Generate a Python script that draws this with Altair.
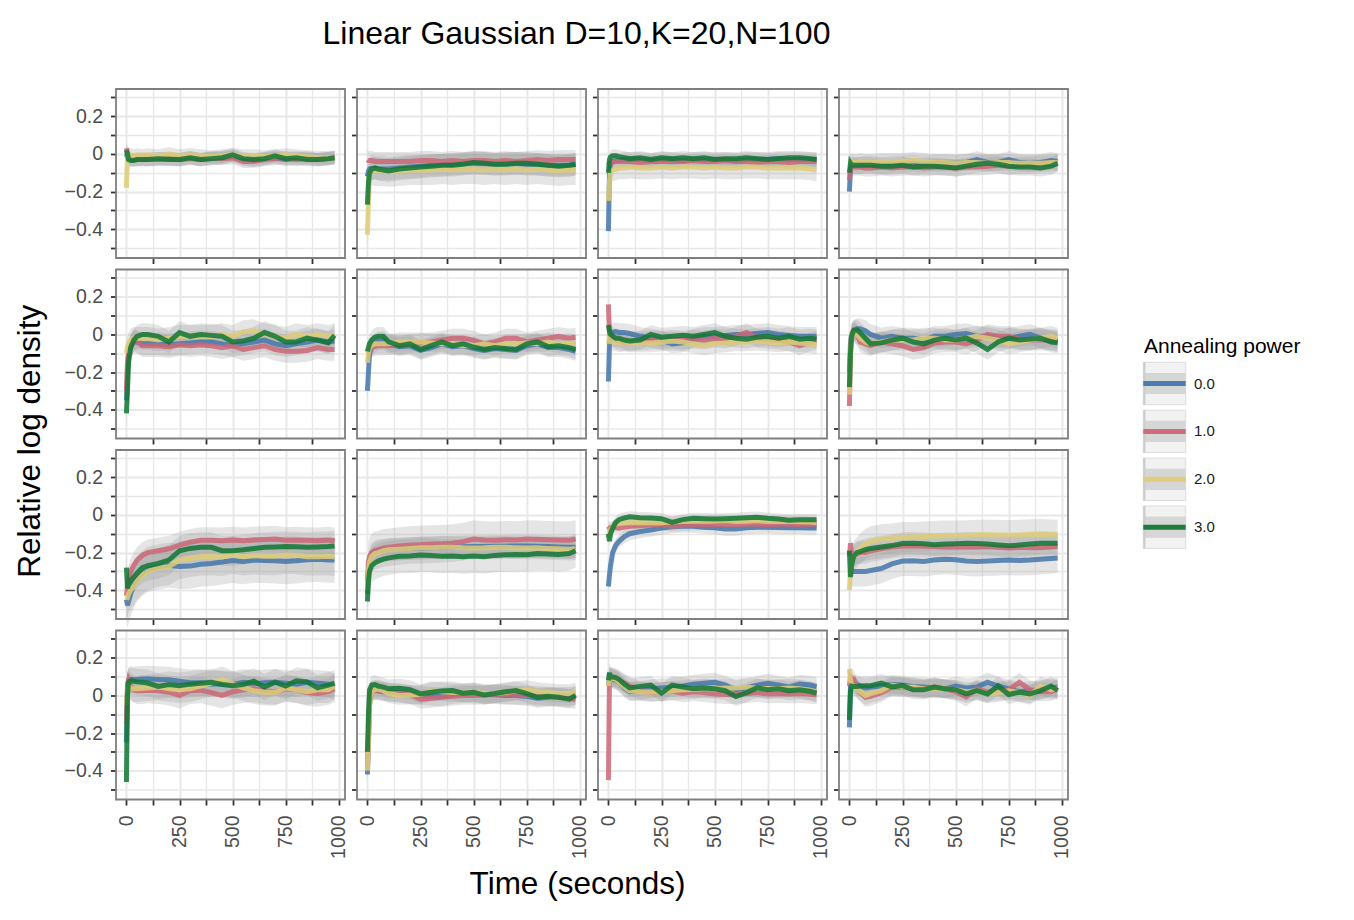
import altair as alt
import pandas as pd

T = [0, 5, 10, 20, 35, 50, 75, 100, 150, 200, 250, 300, 350, 400, 450, 500,
     550, 600, 650, 700, 750, 800, 850, 900, 950, 980]
SERIES = ["0.0", "1.0", "2.0", "3.0"]
COLORS = ["#4477AA", "#CC6677", "#DDCC77", "#117733"]
X_TICKS = [0, 125, 250, 375, 500, 625, 750, 875, 1000]
Y_TICKS = [-0.5, -0.4, -0.3, -0.2, -0.1, 0.0, 0.1, 0.2, 0.3]
TITLE = "Linear Gaussian D=10,K=20,N=100"
X_TITLE = "Time (seconds)"
Y_TITLE = "Relative log density"
LEGEND_TITLE = "Annealing power"

# ---- row 1 ----
P11_B = [0.0, -0.02, -0.03, -0.03, -0.03, -0.03, -0.03, -0.03, -0.025, -0.03, -0.03, -0.02, -0.03, -0.025, -0.02, -0.01, -0.03, -0.035, -0.025, -0.02, -0.03, -0.025, -0.02, -0.03, -0.025, -0.02]
P11_R = [0.03, 0.0, -0.02, -0.03, -0.03, -0.03, -0.025, -0.03, -0.03, -0.025, -0.03, -0.025, -0.03, -0.02, -0.025, -0.02, -0.04, -0.04, -0.03, -0.025, -0.02, -0.03, -0.025, -0.03, -0.025, -0.02]
P11_Y = [-0.18, -0.02, 0.0, -0.005, -0.01, -0.005, -0.01, -0.005, -0.01, 0.0, -0.01, -0.005, -0.01, -0.015, -0.01, -0.005, -0.01, -0.01, -0.015, -0.01, -0.005, -0.01, -0.015, -0.02, -0.02, -0.02]
P11_G = [0.02, 0.0, -0.03, -0.035, -0.035, -0.03, -0.03, -0.03, -0.025, -0.028, -0.03, -0.02, -0.03, -0.025, -0.02, -0.005, -0.025, -0.03, -0.025, -0.01, -0.025, -0.02, -0.03, -0.03, -0.025, -0.02]
HW11 = [0.035, 0.035, 0.035, 0.035]

P12_B = [-0.12, -0.09, -0.08, -0.08, -0.075, -0.08, -0.08, -0.08, -0.075, -0.07, -0.065, -0.06, -0.06, -0.055, -0.05, -0.05, -0.05, -0.055, -0.05, -0.05, -0.055, -0.055, -0.06, -0.06, -0.06, -0.055]
P12_R = [-0.03, -0.035, -0.035, -0.035, -0.04, -0.04, -0.04, -0.04, -0.04, -0.04, -0.035, -0.035, -0.04, -0.035, -0.04, -0.035, -0.035, -0.04, -0.035, -0.04, -0.035, -0.03, -0.035, -0.03, -0.03, -0.03]
P12_Y = [-0.43, -0.25, -0.1, -0.085, -0.09, -0.09, -0.09, -0.095, -0.09, -0.085, -0.085, -0.085, -0.08, -0.085, -0.08, -0.08, -0.085, -0.08, -0.085, -0.08, -0.085, -0.08, -0.085, -0.09, -0.085, -0.085]
P12_G = [-0.27, -0.15, -0.1, -0.08, -0.075, -0.08, -0.085, -0.09, -0.08, -0.075, -0.07, -0.065, -0.06, -0.06, -0.055, -0.045, -0.05, -0.055, -0.055, -0.05, -0.05, -0.055, -0.06, -0.065, -0.06, -0.055]
HW12 = [0.06, 0.05, 0.08, 0.06]

P13_B = [-0.41, -0.1, -0.05, -0.04, -0.035, -0.035, -0.03, -0.03, -0.03, -0.035, -0.03, -0.03, -0.035, -0.03, -0.03, -0.03, -0.03, -0.035, -0.03, -0.03, -0.03, -0.025, -0.03, -0.03, -0.03, -0.03]
P13_R = [-0.06, -0.05, -0.045, -0.045, -0.04, -0.04, -0.04, -0.04, -0.045, -0.04, -0.04, -0.04, -0.04, -0.035, -0.04, -0.04, -0.035, -0.04, -0.04, -0.045, -0.04, -0.04, -0.045, -0.04, -0.04, -0.04]
P13_Y = [-0.25, -0.15, -0.1, -0.085, -0.08, -0.075, -0.075, -0.07, -0.075, -0.075, -0.07, -0.075, -0.07, -0.07, -0.075, -0.07, -0.075, -0.075, -0.07, -0.07, -0.075, -0.075, -0.075, -0.075, -0.08, -0.085]
P13_G = [-0.1, -0.03, -0.015, -0.01, -0.01, -0.015, -0.02, -0.025, -0.02, -0.03, -0.02, -0.025, -0.02, -0.025, -0.02, -0.03, -0.025, -0.025, -0.02, -0.025, -0.03, -0.025, -0.02, -0.02, -0.025, -0.03]
HW13 = [0.04, 0.035, 0.06, 0.035]

P14_B = [-0.2, -0.08, -0.06, -0.06, -0.06, -0.06, -0.055, -0.055, -0.06, -0.055, -0.055, -0.05, -0.055, -0.05, -0.05, -0.05, -0.045, -0.03, -0.045, -0.045, -0.03, -0.045, -0.05, -0.045, -0.035, -0.04]
P14_R = [-0.14, -0.08, -0.07, -0.07, -0.07, -0.07, -0.075, -0.075, -0.07, -0.075, -0.07, -0.07, -0.075, -0.07, -0.07, -0.075, -0.07, -0.07, -0.065, -0.06, -0.065, -0.06, -0.06, -0.055, -0.055, -0.05]
P14_Y = [-0.05, -0.045, -0.04, -0.045, -0.045, -0.04, -0.045, -0.045, -0.04, -0.04, -0.04, -0.035, -0.04, -0.045, -0.045, -0.05, -0.045, -0.045, -0.05, -0.045, -0.045, -0.05, -0.05, -0.05, -0.045, -0.045]
P14_G = [-0.1, -0.05, -0.06, -0.06, -0.06, -0.06, -0.06, -0.06, -0.065, -0.065, -0.06, -0.07, -0.065, -0.065, -0.07, -0.075, -0.065, -0.055, -0.05, -0.055, -0.065, -0.07, -0.07, -0.075, -0.065, -0.05]
HW14 = [0.045, 0.045, 0.045, 0.045]

# ---- row 2 ----
P21_B = [-0.35, -0.2, -0.1, -0.06, -0.04, -0.04, -0.05, -0.05, -0.05, -0.055, -0.05, -0.045, -0.04, -0.04, -0.05, -0.06, -0.05, -0.04, -0.03, -0.05, -0.06, -0.05, -0.04, -0.03, -0.04, -0.035]
P21_R = [-0.3, -0.15, -0.1, -0.06, -0.03, -0.04, -0.06, -0.06, -0.06, -0.065, -0.055, -0.06, -0.055, -0.06, -0.07, -0.06, -0.08, -0.07, -0.06, -0.08, -0.09, -0.09, -0.085, -0.07, -0.08, -0.08]
P21_Y = [-0.1, -0.07, -0.05, -0.03, -0.02, -0.02, -0.02, -0.02, -0.03, -0.02, -0.01, -0.01, -0.01, -0.01, 0.0, -0.01, 0.015, 0.02, 0.0, -0.01, -0.02, 0.0, -0.01, 0.0, -0.01, 0.0]
P21_G = [-0.42, -0.3, -0.15, -0.07, -0.03, -0.01, 0.0, 0.0, -0.01, -0.04, 0.01, -0.01, 0.0, -0.005, -0.01, -0.04, -0.035, -0.02, 0.01, -0.01, -0.04, -0.04, -0.02, -0.03, -0.045, -0.005]
HW21 = [0.06, 0.06, 0.06, 0.06]

P22_B = [-0.3, -0.2, -0.1, -0.07, -0.045, -0.035, -0.03, -0.05, -0.065, -0.06, -0.085, -0.07, -0.05, -0.065, -0.06, -0.075, -0.085, -0.075, -0.08, -0.085, -0.06, -0.05, -0.07, -0.07, -0.08, -0.09]
P22_R = [-0.1, -0.09, -0.08, -0.07, -0.065, -0.06, -0.06, -0.06, -0.055, -0.05, -0.045, -0.04, -0.03, -0.02, -0.02, -0.03, -0.05, -0.04, -0.02, -0.02, -0.04, -0.03, -0.02, -0.01, -0.02, -0.015]
P22_Y = [-0.15, -0.1, -0.07, -0.06, -0.05, -0.05, -0.05, -0.05, -0.04, -0.04, -0.04, -0.045, -0.05, -0.05, -0.06, -0.06, -0.05, -0.06, -0.05, -0.05, -0.045, -0.05, -0.04, -0.05, -0.045, -0.05]
P22_G = [-0.09, -0.07, -0.05, -0.03, -0.015, -0.01, -0.01, -0.04, -0.06, -0.05, -0.08, -0.06, -0.04, -0.06, -0.05, -0.067, -0.08, -0.07, -0.075, -0.08, -0.05, -0.04, -0.065, -0.06, -0.07, -0.08]
HW22 = [0.05, 0.05, 0.05, 0.05]

P23_B = [-0.25, -0.05, 0.0, 0.01, 0.015, 0.01, 0.01, 0.005, -0.01, -0.02, -0.03, -0.05, -0.045, -0.02, -0.01, -0.01, -0.005, 0.0, 0.0, 0.005, 0.01, 0.0, -0.005, -0.01, -0.01, -0.01]
P23_R = [0.16, 0.0, -0.01, -0.02, -0.03, -0.035, -0.04, -0.04, -0.035, -0.03, -0.03, -0.025, -0.03, -0.025, -0.03, -0.02, -0.025, -0.01, 0.01, -0.02, -0.025, -0.03, -0.04, -0.06, -0.04, -0.03]
P23_Y = [-0.05, -0.02, -0.03, -0.04, -0.04, -0.045, -0.04, -0.045, -0.045, -0.045, -0.04, -0.035, -0.04, -0.05, -0.06, -0.05, -0.045, -0.04, -0.04, -0.035, -0.04, -0.045, -0.04, -0.045, -0.05, -0.055]
P23_G = [0.05, 0.02, 0.0, -0.01, -0.02, -0.02, -0.03, -0.035, -0.03, 0.0, -0.015, -0.01, -0.005, -0.01, 0.0, 0.01, -0.01, -0.02, -0.025, -0.015, -0.01, -0.02, -0.01, -0.025, -0.02, -0.025]
HW23 = [0.05, 0.05, 0.05, 0.05]

P24_B = [-0.2, -0.05, 0.0, 0.02, 0.03, 0.03, 0.02, 0.0, -0.02, -0.01, -0.02, -0.02, -0.03, -0.01, -0.01, 0.0, 0.005, -0.01, -0.01, -0.02, -0.02, -0.01, 0.0, -0.02, -0.03, -0.04]
P24_R = [-0.38, -0.1, 0.0, 0.02, 0.0, -0.04, -0.05, -0.06, -0.04, -0.05, -0.06, -0.08, -0.07, -0.045, -0.04, -0.04, -0.05, -0.03, 0.0, -0.01, -0.01, -0.025, -0.03, -0.03, -0.03, -0.03]
P24_Y = [-0.32, -0.1, 0.0, 0.01, 0.0, -0.02, -0.04, -0.05, -0.04, -0.03, -0.03, -0.03, -0.02, -0.02, -0.03, -0.03, -0.02, -0.01, -0.02, -0.03, -0.05, -0.04, -0.03, -0.02, -0.01, -0.02]
P24_G = [-0.28, -0.1, -0.01, 0.02, 0.025, 0.01, -0.02, -0.05, -0.045, -0.03, -0.02, -0.04, -0.05, -0.03, -0.02, -0.03, -0.02, -0.045, -0.08, -0.04, -0.02, -0.03, -0.025, -0.02, -0.04, -0.045]
HW24 = [0.055, 0.055, 0.055, 0.055]

# ---- row 3 ----
P31_B = [-0.45, -0.48, -0.46, -0.42, -0.37, -0.34, -0.31, -0.29, -0.276, -0.267, -0.274, -0.272, -0.262, -0.258, -0.25, -0.242, -0.248, -0.24, -0.242, -0.244, -0.248, -0.244, -0.238, -0.236, -0.24, -0.24]
P31_R = [-0.43, -0.38, -0.34, -0.3, -0.267, -0.24, -0.215, -0.2, -0.19, -0.18, -0.16, -0.145, -0.135, -0.135, -0.137, -0.133, -0.137, -0.133, -0.13, -0.128, -0.135, -0.133, -0.135, -0.137, -0.133, -0.137]
P31_Y = [-0.45, -0.44, -0.42, -0.4, -0.38, -0.35, -0.32, -0.3, -0.28, -0.275, -0.24, -0.23, -0.222, -0.22, -0.224, -0.213, -0.222, -0.217, -0.22, -0.22, -0.213, -0.215, -0.222, -0.222, -0.22, -0.224]
P31_G = [-0.28, -0.39, -0.37, -0.35, -0.33, -0.31, -0.28, -0.27, -0.258, -0.24, -0.19, -0.178, -0.172, -0.172, -0.19, -0.19, -0.185, -0.178, -0.172, -0.17, -0.168, -0.169, -0.172, -0.17, -0.168, -0.165]
HW31 = [0.12, 0.07, 0.1, 0.08]

P32_B = [-0.42, -0.3, -0.24, -0.21, -0.195, -0.19, -0.186, -0.184, -0.18, -0.178, -0.176, -0.174, -0.172, -0.17, -0.169, -0.168, -0.168, -0.166, -0.166, -0.165, -0.165, -0.166, -0.168, -0.17, -0.172, -0.172]
P32_R = [-0.35, -0.25, -0.22, -0.2, -0.188, -0.185, -0.175, -0.172, -0.165, -0.16, -0.158, -0.155, -0.153, -0.15, -0.142, -0.128, -0.133, -0.135, -0.132, -0.133, -0.128, -0.13, -0.132, -0.133, -0.135, -0.128]
P32_Y = [-0.4, -0.3, -0.25, -0.22, -0.205, -0.2, -0.19, -0.185, -0.182, -0.178, -0.175, -0.175, -0.172, -0.172, -0.175, -0.176, -0.175, -0.172, -0.172, -0.174, -0.176, -0.175, -0.178, -0.18, -0.182, -0.18]
P32_G = [-0.46, -0.35, -0.3, -0.27, -0.255, -0.245, -0.235, -0.228, -0.22, -0.218, -0.213, -0.215, -0.22, -0.218, -0.222, -0.218, -0.222, -0.215, -0.212, -0.21, -0.212, -0.205, -0.207, -0.21, -0.205, -0.19]
HW32 = [0.06, 0.1, 0.06, 0.09]

P33_B = [-0.38, -0.32, -0.27, -0.2, -0.16, -0.14, -0.115, -0.1, -0.088, -0.08, -0.07, -0.063, -0.06, -0.06, -0.065, -0.068, -0.075, -0.075, -0.068, -0.066, -0.065, -0.067, -0.068, -0.068, -0.069, -0.069]
P33_R = [-0.06, -0.07, -0.065, -0.065, -0.068, -0.07, -0.065, -0.06, -0.058, -0.053, -0.052, -0.06, -0.055, -0.052, -0.05, -0.052, -0.05, -0.052, -0.05, -0.05, -0.052, -0.05, -0.05, -0.052, -0.05, -0.05]
P33_Y = [-0.12, -0.1, -0.08, -0.06, -0.05, -0.045, -0.043, -0.042, -0.04, -0.042, -0.042, -0.037, -0.035, -0.033, -0.033, -0.032, -0.03, -0.035, -0.033, -0.03, -0.035, -0.035, -0.033, -0.036, -0.038, -0.04]
P33_G = [-0.1, -0.14, -0.1, -0.07, -0.04, -0.025, -0.016, -0.01, -0.015, -0.016, -0.02, -0.04, -0.025, -0.018, -0.02, -0.022, -0.02, -0.018, -0.015, -0.012, -0.018, -0.022, -0.028, -0.025, -0.025, -0.025]
HW33 = [0.035, 0.03, 0.03, 0.03]

P34_B = [-0.31, -0.31, -0.3, -0.3, -0.3, -0.3, -0.3, -0.295, -0.285, -0.26, -0.245, -0.244, -0.247, -0.24, -0.235, -0.238, -0.245, -0.247, -0.245, -0.242, -0.24, -0.242, -0.24, -0.236, -0.232, -0.229]
P34_R = [-0.22, -0.15, -0.2, -0.21, -0.205, -0.2, -0.2, -0.19, -0.18, -0.17, -0.165, -0.164, -0.166, -0.168, -0.17, -0.17, -0.17, -0.17, -0.168, -0.172, -0.176, -0.172, -0.175, -0.174, -0.17, -0.167]
P34_Y = [-0.4, -0.3, -0.25, -0.22, -0.2, -0.18, -0.155, -0.14, -0.13, -0.125, -0.118, -0.117, -0.115, -0.112, -0.11, -0.11, -0.108, -0.105, -0.105, -0.106, -0.108, -0.106, -0.103, -0.102, -0.104, -0.105]
P34_G = [-0.19, -0.33, -0.27, -0.22, -0.2, -0.195, -0.185, -0.178, -0.17, -0.163, -0.152, -0.15, -0.153, -0.158, -0.155, -0.153, -0.15, -0.152, -0.155, -0.16, -0.164, -0.16, -0.155, -0.15, -0.15, -0.15]
HW34 = [0.08, 0.06, 0.08, 0.06]

# ---- row 4 ----
P41_B = [-0.25, 0.05, 0.08, 0.085, 0.083, 0.085, 0.087, 0.088, 0.085, 0.083, 0.075, 0.068, 0.068, 0.06, 0.062, 0.058, 0.07, 0.062, 0.068, 0.07, 0.065, 0.06, 0.07, 0.065, 0.06, 0.045]
P41_R = [-0.15, 0.05, 0.08, 0.05, 0.03, 0.025, 0.025, 0.028, 0.025, 0.017, 0.0, 0.025, 0.028, 0.015, 0.0, 0.02, 0.03, 0.035, 0.025, 0.02, 0.035, 0.03, 0.015, 0.01, 0.02, 0.035]
P41_Y = [-0.05, 0.02, 0.05, 0.04, 0.035, 0.035, 0.038, 0.04, 0.045, 0.035, 0.03, 0.035, 0.05, 0.065, 0.085, 0.06, 0.04, 0.025, 0.017, 0.017, 0.04, 0.03, 0.02, 0.03, 0.03, 0.05]
P41_G = [-0.46, 0.0, 0.07, 0.078, 0.075, 0.072, 0.07, 0.066, 0.048, 0.058, 0.052, 0.06, 0.065, 0.07, 0.058, 0.052, 0.058, 0.075, 0.045, 0.07, 0.05, 0.078, 0.072, 0.04, 0.055, 0.065]
HW41 = [0.07, 0.07, 0.07, 0.07]

P42_B = [-0.42, -0.25, -0.05, 0.02, 0.026, 0.025, 0.02, 0.018, 0.015, 0.005, 0.0, -0.005, -0.006, 0.005, 0.01, 0.008, 0.005, 0.004, 0.0, 0.0, -0.005, -0.015, -0.01, -0.005, -0.005, 0.0]
P42_R = [-0.38, -0.2, 0.0, 0.03, 0.03, 0.026, 0.022, 0.018, 0.012, 0.005, -0.02, -0.015, -0.01, -0.005, 0.0, 0.0, 0.002, 0.008, 0.005, 0.0, 0.0, 0.0, -0.005, -0.01, -0.015, -0.024]
P42_Y = [-0.4, -0.25, -0.05, 0.02, 0.03, 0.035, 0.025, 0.01, 0.0, 0.002, 0.005, 0.025, 0.02, 0.015, 0.015, 0.017, 0.012, 0.01, 0.015, 0.025, 0.03, 0.02, 0.015, 0.01, 0.01, 0.017]
P42_G = [-0.3, -0.1, 0.03, 0.055, 0.058, 0.05, 0.044, 0.035, 0.038, 0.03, 0.008, 0.017, 0.024, 0.026, 0.012, 0.017, 0.002, 0.01, 0.02, 0.026, 0.01, -0.01, -0.005, -0.01, -0.02, 0.0]
HW42 = [0.05, 0.05, 0.05, 0.05]

P43_B = [0.05, 0.1, 0.095, 0.085, 0.08, 0.07, 0.04, 0.02, 0.025, 0.035, 0.04, 0.042, 0.05, 0.06, 0.065, 0.07, 0.055, 0.03, 0.04, 0.055, 0.065, 0.055, 0.045, 0.06, 0.055, 0.047]
P43_R = [-0.45, 0.09, 0.1, 0.095, 0.088, 0.08, 0.065, 0.05, 0.026, 0.017, 0.02, 0.025, 0.012, 0.02, 0.015, 0.008, 0.005, 0.004, 0.01, 0.015, 0.008, 0.01, 0.008, 0.01, 0.006, 0.004]
P43_Y = [0.05, 0.09, 0.1, 0.09, 0.085, 0.07, 0.045, 0.025, 0.02, 0.018, 0.02, 0.025, 0.03, 0.032, 0.035, 0.035, 0.04, 0.04, 0.045, 0.038, 0.035, 0.035, 0.04, 0.035, 0.025, 0.017]
P43_G = [0.08, 0.12, 0.1, 0.098, 0.095, 0.085, 0.061, 0.04, 0.048, 0.055, 0.012, 0.055, 0.045, 0.035, 0.04, 0.035, 0.025, -0.006, 0.015, 0.04, 0.03, 0.035, 0.025, 0.03, 0.022, 0.012]
HW43 = [0.05, 0.05, 0.05, 0.05]

P44_B = [-0.17, 0.05, 0.06, 0.06, 0.058, 0.05, 0.04, 0.045, 0.05, 0.058, 0.055, 0.047, 0.045, 0.04, 0.035, 0.05, 0.04, 0.045, 0.07, 0.05, 0.035, 0.02, 0.025, 0.03, 0.04, 0.045]
P44_R = [0.05, 0.1, 0.09, 0.088, 0.04, 0.017, -0.01, -0.005, 0.015, 0.045, 0.042, 0.04, 0.035, 0.045, 0.035, 0.02, -0.008, 0.035, 0.017, 0.025, 0.03, 0.07, 0.03, 0.02, 0.02, 0.035]
P44_Y = [0.14, 0.08, 0.06, 0.05, 0.035, 0.02, 0.0, 0.01, 0.025, 0.055, 0.045, 0.045, 0.035, 0.035, 0.035, 0.03, 0.02, 0.025, 0.01, 0.015, 0.025, 0.015, 0.0, 0.05, 0.03, 0.035]
P44_G = [-0.13, 0.02, 0.05, 0.048, 0.047, 0.05, 0.052, 0.052, 0.065, 0.045, 0.052, 0.03, 0.03, 0.045, 0.035, 0.03, 0.008, 0.026, 0.008, 0.05, 0.005, 0.017, 0.008, 0.026, 0.05, 0.026]
HW44 = [0.05, 0.05, 0.05, 0.05]

PANELS = [
    [(P11_B, P11_R, P11_Y, P11_G, HW11), (P12_B, P12_R, P12_Y, P12_G, HW12),
     (P13_B, P13_R, P13_Y, P13_G, HW13), (P14_B, P14_R, P14_Y, P14_G, HW14)],
    [(P21_B, P21_R, P21_Y, P21_G, HW21), (P22_B, P22_R, P22_Y, P22_G, HW22),
     (P23_B, P23_R, P23_Y, P23_G, HW23), (P24_B, P24_R, P24_Y, P24_G, HW24)],
    [(P31_B, P31_R, P31_Y, P31_G, HW31), (P32_B, P32_R, P32_Y, P32_G, HW32),
     (P33_B, P33_R, P33_Y, P33_G, HW33), (P34_B, P34_R, P34_Y, P34_G, HW34)],
    [(P41_B, P41_R, P41_Y, P41_G, HW41), (P42_B, P42_R, P42_Y, P42_G, HW42),
     (P43_B, P43_R, P43_Y, P43_G, HW43), (P44_B, P44_R, P44_Y, P44_G, HW44)],
]

PW, PH = 229, 169
FONT = "Liberation Sans"
XS = alt.Scale(domain=[-49, 1029], nice=False, zero=False)
YS = alt.Scale(domain=[-0.553, 0.345], nice=False, zero=False)
MAJ_X = "datum.value % 250 === 0"
MAJ_Y = "abs(round(datum.value * 10)) % 2 === 0"


def build_df(b, r, y, g, hw):
    recs = []
    for name, vals, h in zip(SERIES, [b, r, y, g], hw):
        if len(vals) != len(T):
            raise ValueError("bad length")
        for t, v in zip(T, vals):
            recs.append({"t": t, "v": v, "lo": v - h, "hi": v + h, "s": name})
    return pd.DataFrame(recs)


def x_axis(bottom):
    kw = dict(values=X_TICKS, grid=True, gridColor="#e8e8e8",
              gridWidth={"condition": {"test": MAJ_X, "value": 2.0}, "value": 1.3},
              domain=False, ticks=True, tickColor="#333333", tickWidth=1.8,
              tickSize=5.5, title="")
    if bottom:
        kw.update(labels=True, labelAngle=270, labelFontSize=19.5,
                  labelColor="#4d4d4d", labelPadding=10, labelOverlap=False,
                  labelFlush=False, labelFont=FONT,
                  labelExpr=MAJ_X + " ? format(datum.value, 'd') : ''")
    else:
        kw.update(labels=False,
                  tickOpacity={"condition": {"test": MAJ_X, "value": 0}, "value": 1})
    return alt.Axis(**kw)


def y_axis(left):
    kw = dict(values=Y_TICKS, grid=True, gridColor="#e8e8e8",
              gridWidth={"condition": {"test": MAJ_Y, "value": 2.0}, "value": 1.3},
              domain=False, ticks=True, tickColor="#333333", tickWidth=1.8,
              tickSize=5.5, title="")
    if left:
        kw.update(labels=True, labelFontSize=19.5, labelColor="#4d4d4d",
                  labelPadding=8, labelOverlap=False, labelFlush=False, labelFont=FONT,
                  labelExpr=MAJ_Y + " ? ((datum.value < -0.001 ? '\u2212' : '') + "
                            "(abs(datum.value) < 0.001 ? '0' : format(abs(datum.value), '.1f'))) : ''")
    else:
        kw.update(labels=False,
                  tickOpacity={"condition": {"test": MAJ_Y, "value": 0}, "value": 1})
    return alt.Axis(**kw)


def text_layer(label, x, y, size, angle=0, align="center"):
    kw = dict(align=align, baseline="alphabetic", fontSize=size, font=FONT, color="#000000")
    if angle:
        kw["angle"] = angle
    return alt.Chart(pd.DataFrame({"label": [label]})).mark_text(**kw).encode(
        text="label:N", x=alt.value(x), y=alt.value(y))


def panel(r, c):
    b, rr, yy, g, hw = PANELS[r][c]
    df = build_df(b, rr, yy, g, hw)
    xa = x_axis(r == 3)
    ya = y_axis(c == 0)
    rib = alt.Chart().mark_area(color="#999999", opacity=0.25).encode(
        x=alt.X("t:Q", scale=XS, axis=xa),
        y=alt.Y("lo:Q", scale=YS, axis=ya),
        y2="hi:Q",
        detail="s:N",
    )
    layers = [rib]
    for s, col in zip(SERIES, COLORS):
        layers.append(
            alt.Chart().mark_line(color=col, strokeWidth=5, opacity=0.85)
            .encode(x=alt.X("t:Q", scale=XS, axis=xa),
                    y=alt.Y("v:Q", scale=YS, axis=ya))
            .transform_filter(alt.datum.s == s)
        )
    border = alt.Chart(pd.DataFrame({"k": [0]})).mark_rect(
        filled=False, color="#7f7f7f", strokeWidth=1.8).encode(
        x=alt.value(0), x2=alt.value("width"), y=alt.value(0), y2=alt.value("height"))
    layers.append(border)
    if r == 0 and c == 0:
        layers.append(text_layer(TITLE, 460.5, -45.3, 32))
        layers.append(text_layer(Y_TITLE, -76, 352.2, 31.5, angle=270))
    if r == 3 and c == 0:
        layers.append(text_layer(X_TITLE, 461.5, 263, 31.5))
    return alt.layer(*layers, data=df).properties(width=PW, height=PH)


def legend_cell():
    leg_df = pd.DataFrame({"s": SERIES})
    LY = alt.Y("s:N", scale=alt.Scale(type="point", domain=SERIES,
                                       range=[114, 257.7], padding=0), axis=None)
    box = alt.Chart(leg_df).mark_square(size=1798, fill="#f2f2f2", stroke="#dcdcdc",
                                        strokeWidth=1, opacity=1).encode(
        x=alt.value(84.5), y=LY)
    band = alt.Chart(leg_df).mark_point(shape="M-1,-0.5H1V0.5H-1Z", size=1798, filled=True,
                                        fill="#d6d6d6", strokeWidth=0, opacity=1).encode(
        x=alt.value(84.5), y=LY)
    strip = alt.Chart(leg_df).mark_point(shape="M-1,-1H-0.9V1H-1Z", size=1798, filled=True,
                                         fill="#cccccc", strokeWidth=0, opacity=1).encode(
        x=alt.value(84.5), y=LY)
    line = alt.Chart(leg_df).mark_rule(strokeWidth=5, opacity=0.95).encode(
        x=alt.value(63.3), x2=alt.value(105.7), y=LY,
        color=alt.Color("s:N", scale=alt.Scale(domain=SERIES, range=COLORS), legend=None))
    labels = alt.Chart(leg_df).mark_text(align="left", baseline="middle", fontSize=15,
                                         font=FONT, color="#1a1a1a").encode(
        x=alt.value(114), y=LY, text="s:N")
    title = text_layer(LEGEND_TITLE, 64, 83.4, 21, align="left")
    return alt.layer(box, band, strip, line, labels, title).properties(width=PW, height=PH)


def placeholder():
    return alt.Chart(pd.DataFrame({"label": [""]})).mark_text().encode(
        text="label:N", x=alt.value(0), y=alt.value(0)).properties(width=PW, height=PH)


cells = []
for r in range(4):
    for c in range(4):
        cells.append(panel(r, c))
    if r == 0 or r == 2:
        cells.append(placeholder())
    elif r == 1:
        cells.append(legend_cell())

chart = alt.concat(*cells, columns=5, spacing={"row": 11.5, "column": 12},
                   bounds="flush").properties(
    padding={"left": 7, "top": 9, "right": 8, "bottom": 5}
).configure(font=FONT).configure_view(strokeWidth=0)

chart.save("out.html", embed_options={"renderer": "svg", "actions": False})
